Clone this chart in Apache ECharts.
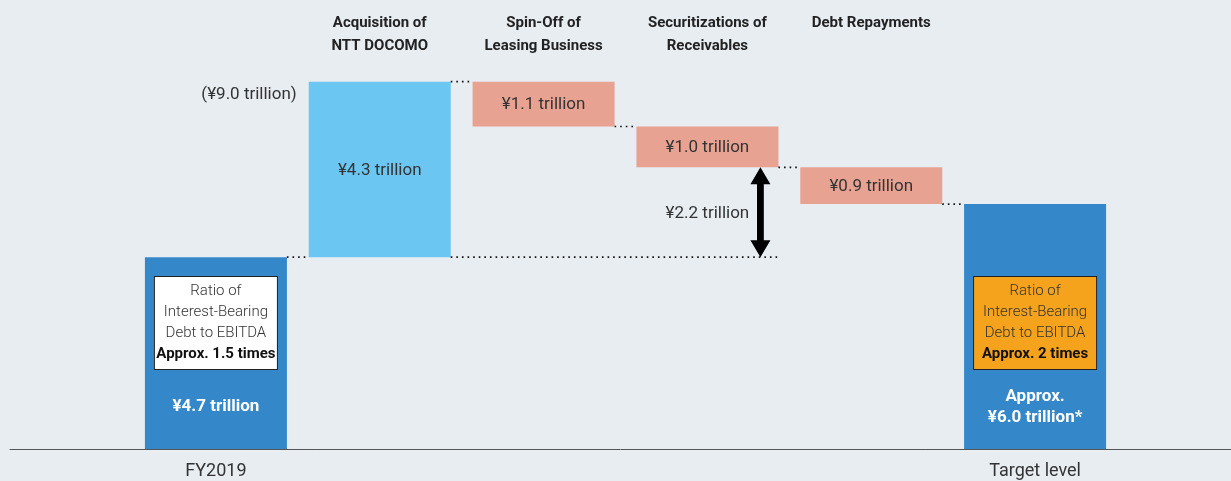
<!DOCTYPE html>
<html>
<head>
<meta charset="utf-8">
<script src="https://cdn.jsdelivr.net/npm/echarts@6/dist/echarts.min.js"></script>
<style>
  html, body { margin: 0; padding: 0; background: #e8edf2; }
  #chart { width: 1231px; height: 481px; }
</style>
</head>
<body>
<div id="chart"></div>
<script>
// ---------- data ----------
const bottomLabels = ['FY2019', '', '', '', '', 'Target level'];
const topLabels = ['', 'Acquisition of\nNTT DOCOMO', 'Spin-Off of\nLeasing Business', 'Securitizations of\nReceivables', 'Debt Repayments', ''];
const startTotal = 4.7;                 // FY2019 (¥ trillion)
const changes = [4.3, -1.1, -1.0, -0.9]; // DOCOMO, spin-off, securitizations, repayments
const endTotal = 6.0;                    // target level
const ratioLabels = ['Approx. 1.5 times', 'Approx. 2 times'];
const totalLabels = ['¥4.7 trillion', 'Approx.\n¥6.0 trillion*'];

// ---------- styles ----------
const FONT = 'Roboto';
const BAR_WIDTH = 142;
const DARK_BLUE = '#3488c9';
const LIGHT_BLUE = '#6bc7f2';
const PINK = '#e8a292';
const ORANGE = '#f5a31c';
const TEXT = '#333333';

// ---------- derived ----------
const running = [startTotal];
changes.forEach(c => running.push(+(running[running.length - 1] + c).toFixed(2)));
const n = bottomLabels.length;
const baseData = [0];
const heightData = [startTotal];
changes.forEach((c, i) => {
  baseData.push(Math.min(running[i], running[i + 1]));
  heightData.push(Math.abs(c));
});
baseData.push(0);
heightData.push(endTotal);

const fillColors = heightData.map((v, i) => {
  if (i === 0 || i === n - 1) return DARK_BLUE;
  return changes[i - 1] > 0 ? LIGHT_BLUE : PINK;
});

const boxRich = {
  n: { fontFamily: FONT, fontSize: 15, fontWeight: 300, lineHeight: 21, color: TEXT, align: 'center' },
  b: { fontFamily: FONT, fontSize: 15, fontWeight: 'bold', lineHeight: 21, color: '#111', align: 'center' }
};
function boxText(ratio) {
  return '{n|Ratio of}\n{n|Interest-Bearing}\n{n|Debt to EBITDA}\n{b|' + ratio + '}';
}

const deltaItems = heightData.map((v, i) => {
  const item = { value: v, itemStyle: { color: fillColors[i] } };
  if (i === 0 || i === n - 1) {
    const isEnd = i === n - 1;
    item.label = {
      show: true,
      position: ['50%', '100%'],
      offset: [0, -80],
      align: 'center',
      verticalAlign: 'bottom',
      formatter: boxText(ratioLabels[isEnd ? 1 : 0]),
      rich: boxRich,
      width: 118,
      padding: [4, 2],
      backgroundColor: isEnd ? ORANGE : '#ffffff',
      borderColor: '#222',
      borderWidth: 1
    };
  } else {
    item.label = {
      show: true,
      position: 'inside',
      offset: [0, 1],
      formatter: '¥' + v.toFixed(1) + ' trillion',
      fontFamily: FONT, fontSize: 17, color: TEXT
    };
  }
  return item;
});

const totalItems = heightData.map((v, i) => (i === 0 || i === n - 1) ? v : '-');

const connectorData = running.map((v, i) => [i, v]);

const chart = echarts.init(document.getElementById('chart'), null, { renderer: 'canvas' });

chart.setOption({
  backgroundColor: '#e8edf2',
  animation: false,
  grid: [
    { left: 134, right: 114, top: 0, bottom: 32 },
    { left: 134, right: 114, top: 0, height: 1 },
    { left: 10, right: 0, bottom: 32, height: 1 }
  ],
  xAxis: [
    {
      type: 'category', gridIndex: 0, data: bottomLabels,
      axisLine: { show: false }, axisTick: { show: false },
      axisLabel: { interval: 0, margin: 13, fontFamily: FONT, fontSize: 18, color: TEXT }
    },
    {
      type: 'category', gridIndex: 1, data: topLabels,
      axisLine: { show: false }, axisTick: { show: false },
      axisLabel: { interval: 0, margin: 11, fontFamily: FONT, fontSize: 15, fontWeight: 'bold', lineHeight: 23, color: '#222' }
    },
    {
      type: 'value', gridIndex: 2, min: 0, max: 1,
      axisLine: { show: true, lineStyle: { color: '#555', width: 1 } },
      axisTick: { show: false }, axisLabel: { show: false }, splitLine: { show: false }
    }
  ],
  yAxis: [
    { type: 'value', gridIndex: 0, min: 0, max: 11, show: false, splitLine: { show: false } },
    { type: 'value', gridIndex: 1, show: false },
    { type: 'value', gridIndex: 2, show: false }
  ],
  series: [
    {
      type: 'bar', name: 'base', stack: 'w', data: baseData,
      barWidth: BAR_WIDTH, barGap: '-100%',
      itemStyle: { color: 'transparent' }, silent: true
    },
    {
      type: 'bar', name: 'delta', stack: 'w', data: deltaItems,
      barWidth: BAR_WIDTH, barGap: '-100%'
    },
    {
      type: 'bar', name: 'totals', data: totalItems,
      barWidth: BAR_WIDTH, barGap: '-100%', z: 5,
      itemStyle: { color: 'transparent' }, silent: true,
      label: {
        show: true,
        position: ['50%', '100%'],
        offset: [0, -42],
        align: 'center', verticalAlign: 'middle',
        fontFamily: FONT, fontSize: 17, fontWeight: 'bold', lineHeight: 21, color: '#ffffff',
        formatter: p => totalLabels[p.dataIndex === 0 ? 0 : 1]
      }
    },
    {
      type: 'custom', name: 'connectors', data: connectorData, z: 6, silent: true,
      renderItem: function (params, api) {
        const i = api.value(0);
        const lvl = api.value(1);
        const p1 = api.coord([i, lvl]);
        const p2 = api.coord([i + 1, lvl]);
        const half = BAR_WIDTH / 2;
        return {
          type: 'line',
          shape: { x1: p1[0] + half, y1: p1[1], x2: p2[0] - half, y2: p2[1] },
          style: { stroke: '#111', lineWidth: 1.6, lineDash: [1.6, 4] }
        };
      }
    },
    {
      type: 'custom', name: 'annotations', data: [[3, running[3]]], z: 6, silent: true,
      renderItem: function (params, api) {
        const half = BAR_WIDTH / 2;
        const c1 = api.coord([1, running[0]]);
        const c3 = api.coord([3, running[0]]);
        const yTop = api.coord([3, running[3]])[1];
        const yBot = c3[1];
        const cx = c3[0] + half - 18;
        const hh = 17, hw = 10, sw = 3.4;
        const peak = api.coord([1, running[1]]);
        const gap = (running[3] - running[0]).toFixed(1);
        return {
          type: 'group',
          children: [
            {
              type: 'line',
              shape: { x1: c1[0] + half, y1: yBot, x2: c3[0] + half, y2: yBot },
              style: { stroke: '#111', lineWidth: 1.6, lineDash: [1.6, 4] }
            },
            {
              type: 'polygon',
              shape: { points: [
                [cx, yTop], [cx + hw, yTop + hh], [cx + sw, yTop + hh], [cx + sw, yBot - hh],
                [cx + hw, yBot - hh], [cx, yBot], [cx - hw, yBot - hh], [cx - sw, yBot - hh],
                [cx - sw, yTop + hh], [cx - hw, yTop + hh]
              ] },
              style: { fill: '#000' }
            },
            {
              type: 'text',
              style: {
                x: c3[0], y: (yTop + yBot) / 2 + 1,
                text: '¥' + gap + ' trillion',
                fontFamily: FONT, fontSize: 17, fill: TEXT,
                align: 'center', verticalAlign: 'middle'
              }
            },
            {
              type: 'text',
              style: {
                x: peak[0] - half - 12, y: peak[1] + 13,
                text: '(¥' + running[1].toFixed(1) + ' trillion)',
                fontFamily: FONT, fontSize: 17, fill: TEXT,
                align: 'right', verticalAlign: 'middle'
              }
            }
          ]
        };
      }
    }
  ]
});
</script>
</body>
</html>
